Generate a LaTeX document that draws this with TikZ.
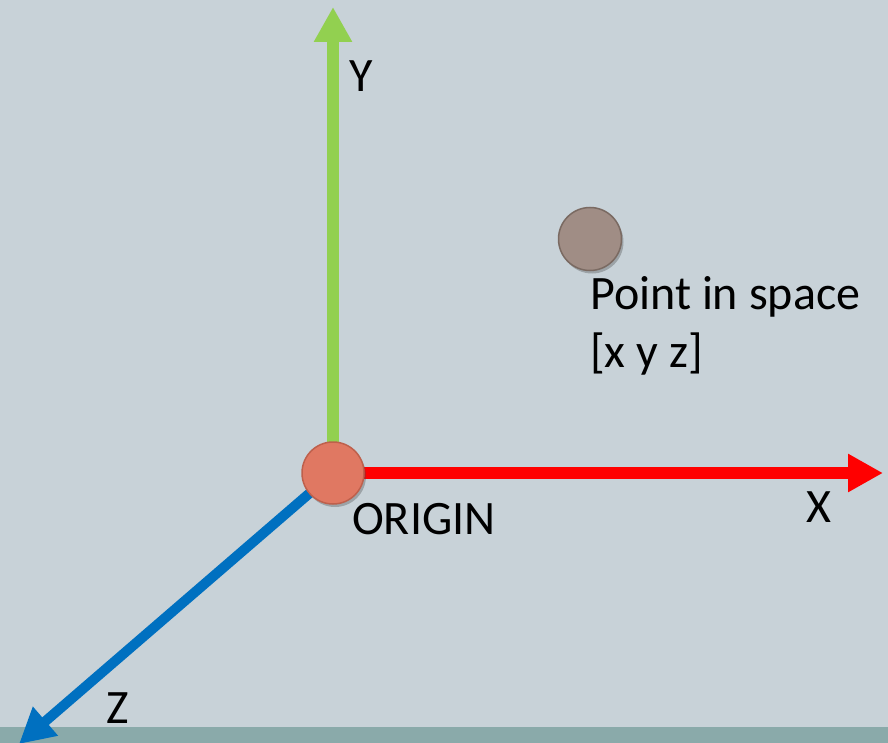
\documentclass[tikz,border=0pt]{standalone}
\usepackage{fontspec}
\setmainfont{Carlito}
\usetikzlibrary{arrows.meta,shadows}
\definecolor{bgc}{RGB}{200,210,216}
\definecolor{barc}{RGB}{138,170,170}
\definecolor{ygreen}{RGB}{146,208,80}
\definecolor{xred}{RGB}{255,0,0}
\definecolor{zblue}{RGB}{0,112,192}
\definecolor{origfill}{RGB}{224,120,98}
\definecolor{origline}{RGB}{190,96,76}
\definecolor{ptfill}{RGB}{160,141,133}
\definecolor{ptline}{RGB}{122,106,98}
\begin{document}
\begin{tikzpicture}[x=1pt,y=-1pt,
  axis/.style={line width=12pt,-{Triangle[length=35pt,width=36pt]}},
  ball/.style={circle,minimum size=62pt,inner sep=0pt,line width=1.5pt,
    drop shadow={shadow xshift=2pt,shadow yshift=-3pt,opacity=0.35,fill=black!70}},
  lbl/.style={anchor=base west,inner sep=0pt,font=\fontsize{48}{57}\selectfont}]
\fill[bgc] (0,0) rectangle (888,743);
\useasboundingbox (0,0) rectangle (888,743);
\fill[barc] (0,727) rectangle (888,743);
\coordinate (o) at (333,473);
\coordinate (ytip) at (333,7);
\coordinate (xtip) at (883,473);
\coordinate (ztip) at (19,744);
\draw[axis,draw=ygreen,fill=ygreen] (o) -- (ytip);
\draw[axis,draw=xred,fill=xred] (o) -- (xtip);
\draw[axis,line width=10pt,draw=zblue,fill=zblue] (o) -- (ztip);
\node[ball,fill=origfill,draw=origline] (origin) at (o) {};
\node[ball,fill=ptfill,draw=ptline,minimum size=63pt] (pt) at (590,239) {};
\node[lbl] (ylab) at (349,92) {Y};
\node[lbl] (xlab) at (806,522) {X};
\node[lbl] (zlab) at (106,723) {Z};
\node[lbl] (olab) at (352,534) {ORIGIN};
\node[lbl] (plab) at (590,309) {Point in space};
\node[lbl] (clab) at (590,367) {[x y z]};
\end{tikzpicture}
\end{document}
